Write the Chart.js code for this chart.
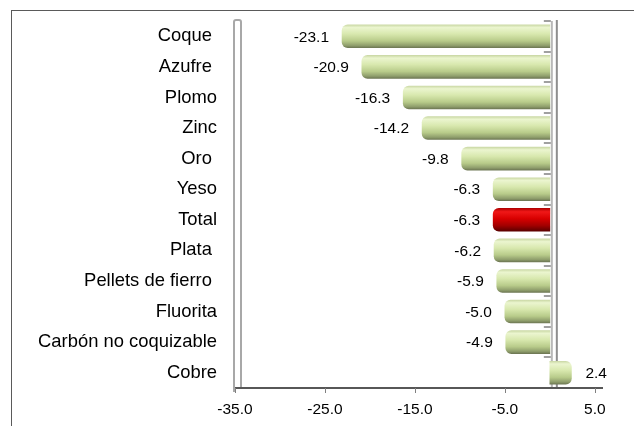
<!DOCTYPE html>
<html>
<head>
<meta charset="utf-8">
<script src="https://cdn.jsdelivr.net/npm/chart.js@4.4.1/dist/chart.umd.min.js"></script>
<style>
  html, body { margin: 0; padding: 0; background: #fff; }
  canvas { display: block; }
</style>
</head>
<body>
<canvas id="c" width="634" height="426"></canvas>
<script>
// ---- data ----
const categories = ['Coque ', 'Azufre ', 'Plomo', 'Zinc', 'Oro ', 'Yeso', 'Total', 'Plata ', 'Pellets de fierro ', 'Fluorita', 'Carbón no coquizable', 'Cobre'];
const values = [-23.1, -20.9, -16.3, -14.2, -9.8, -6.3, -6.3, -6.2, -5.9, -5.0, -4.9, 2.4];
const tickValues = [-35, -25, -15, -5, 5];
const highlightCategory = 'Total';

// ---- styles ----
const FONT = "'Liberation Sans', Arial, sans-serif";
const BAR_T = 23;
const greenStops = [[0, '#cbd9a6'], [0.12, '#ebf5cf'], [0.4, '#d8e8ae'], [0.7, '#b8cb8a'], [0.9, '#8f9e6c'], [1, '#6e7854']];
const redStops = [[0, '#b00000'], [0.15, '#f01818'], [0.45, '#d80000'], [0.75, '#a20000'], [1, '#5a0000']];

function cylFill(ctx) {
  const chart = ctx.chart;
  const stops = categories[ctx.dataIndex] === highlightCategory ? redStops : greenStops;
  const ys = chart.scales && chart.scales.y;
  if (!chart.chartArea || !ys) return stops[2][1];
  const yc = ys.getPixelForValue(ctx.dataIndex);
  const g = chart.ctx.createLinearGradient(0, yc - BAR_T / 2, 0, yc + BAR_T / 2);
  stops.forEach(s => g.addColorStop(s[0], s[1]));
  return g;
}

const decor = {
  id: 'decor',
  beforeDraw(chart) {
    const c = chart.ctx;
    c.save();
    c.strokeStyle = '#5a5a5a';
    c.lineWidth = 1;
    c.strokeRect(11.5, 10.5, 1000, 1000);
    c.restore();
  },
  beforeDatasetsDraw(chart) {
    const c = chart.ctx, xs = chart.scales.x, ys = chart.scales.y, a = chart.chartArea;
    const xl = xs.getPixelForValue(xs.min);
    const x0 = xs.getPixelForValue(0);
    c.save();
    // left wall
    c.strokeStyle = '#a8a8a8';
    c.lineWidth = 2;
    c.beginPath();
    c.moveTo(xl - 1, a.bottom + 4);
    c.lineTo(xl - 1, a.top + 1);
    c.quadraticCurveTo(xl - 1, a.top - 1, xl + 1, a.top - 1);
    c.lineTo(xl + 4, a.top - 1);
    c.quadraticCurveTo(xl + 6, a.top - 1, xl + 6, a.top + 1);
    c.lineTo(xl + 6, a.bottom);
    c.stroke();
    // zero wall
    c.strokeStyle = '#b8b8b8';
    c.beginPath(); c.moveTo(x0 + 2, a.top); c.lineTo(x0 + 2, a.bottom); c.stroke();
    c.strokeStyle = '#8e8e8e';
    c.beginPath(); c.moveTo(x0 + 7, a.top - 1); c.lineTo(x0 + 7, a.bottom); c.stroke();
    // category boundary dashes
    c.strokeStyle = '#a0a0a0';
    for (let i = 0; i <= categories.length; i++) {
      const yb = Math.round(ys.getPixelForValue(i - 0.5));
      c.beginPath(); c.moveTo(x0 - 6, yb); c.lineTo(x0 + 1, yb); c.stroke();
    }
    c.restore();
  },
  afterDatasetsDraw(chart) {
    const c = chart.ctx, xs = chart.scales.x, a = chart.chartArea;
    const xl = xs.getPixelForValue(xs.min);
    c.save();
    // axis line
    c.strokeStyle = '#575757';
    c.lineWidth = 2;
    c.beginPath(); c.moveTo(xl, a.bottom); c.lineTo(a.right + 1, a.bottom); c.stroke();
    // tick marks
    c.strokeStyle = '#808080';
    c.lineWidth = 1;
    tickValues.forEach(v => {
      const px = Math.round(xs.getPixelForValue(v)) + 0.5;
      c.beginPath(); c.moveTo(px, a.bottom); c.lineTo(px, a.bottom + 5); c.stroke();
    });
    // value labels
    c.fillStyle = '#000';
    c.font = '15.5px ' + FONT;
    c.textBaseline = 'middle';
    const meta = chart.getDatasetMeta(0);
    meta.data.forEach((el, i) => {
      const v = values[i];
      const txt = v.toFixed(1);
      if (v < 0) { c.textAlign = 'right'; c.fillText(txt, el.x - 13, el.y + 1); }
      else { c.textAlign = 'left'; c.fillText(txt, el.x + 14, el.y + 1); }
    });
    c.restore();
  }
};

new Chart(document.getElementById('c'), {
  type: 'bar',
  data: {
    labels: categories,
    datasets: [{
      data: values,
      backgroundColor: cylFill,
      borderWidth: 0,
      borderRadius: 6,
      borderSkipped: 'start',
      barThickness: BAR_T
    }]
  },
  options: {
    indexAxis: 'y',
    responsive: false,
    animation: false,
    devicePixelRatio: 1,
    layout: { padding: { top: 21, right: 32, bottom: 0, left: 0 } },
    plugins: { legend: { display: false }, tooltip: { enabled: false }, title: { display: false } },
    scales: {
      x: {
        type: 'linear',
        min: -35,
        max: 5.8,
        afterBuildTicks(scale) { scale.ticks = tickValues.map(v => ({ value: v })); },
        afterFit(scale) { scale.height = 38; scale.paddingLeft = 0; scale.paddingRight = 0; },
        grid: { display: false, drawTicks: false },
        border: { display: false },
        ticks: {
          color: '#000',
          font: { family: FONT, size: 15.5 },
          padding: 12,
          maxRotation: 0,
          autoSkip: false,
          callback: v => Number(v).toFixed(1)
        }
      },
      y: {
        type: 'category',
        afterFit(scale) { scale.width = 235; scale.paddingTop = 0; scale.paddingBottom = 0; },
        grid: { display: false, drawTicks: false },
        border: { display: false },
        ticks: {
          color: '#000',
          font: { family: FONT, size: 18.4 },
          padding: 18,
          autoSkip: false
        }
      }
    }
  },
  plugins: [decor]
});
</script>
</body>
</html>
